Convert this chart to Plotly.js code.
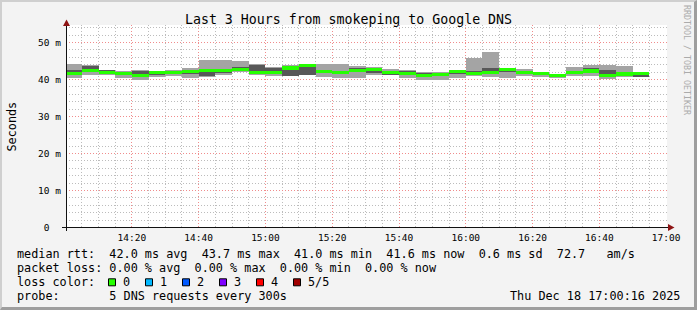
<!DOCTYPE html>
<html>
<head>
<meta charset="utf-8">
<script src="https://cdn.plot.ly/plotly-3.0.1.min.js"></script>
<style>
html,body{margin:0;padding:0;background:#f3f3f3;}
#wrap{position:relative;width:697px;height:310px;overflow:hidden;}
#chart{width:697px;height:310px;}
#frame{position:absolute;left:0;top:0;width:697px;height:310px;box-sizing:border-box;
  border-top:2px solid #cfcfcf;border-left:2px solid #cfcfcf;border-right:3px solid #9e9e9e;border-bottom:3px solid #9e9e9e;pointer-events:none;}
</style>
</head>
<body>
<div id="wrap"><div id="chart"></div><div id="frame"></div></div>
<script>
// ---- data (ms) ----
const day = '2025-12-18';
const times = ['14:00','14:05','14:10','14:15','14:20','14:25','14:30','14:35','14:40','14:45','14:50','14:55',
               '15:00','15:05','15:10','15:15','15:20','15:25','15:30','15:35','15:40','15:45','15:50','15:55',
               '16:00','16:05','16:10','16:15','16:20','16:25','16:30','16:35','16:40','16:45','16:50'];
const pingMin = [40.5,41.1,41.1,40.5,39.9,40.8,41.0,40.4,40.8,41.3,41.9,41.1,
                 40.9,40.9,41.2,40.6,40.4,40.4,41.1,41.1,40.4,39.9,39.9,40.3,
                 40.9,40.6,40.4,41.0,40.7,40.4,41.0,41.0,40.2,40.8,40.6];
const ping2   = [41.3,41.9,41.5,41.2,41.3,41.1,41.6,41.6,40.9,41.8,42.3,41.6,
                 41.7,41.0,41.3,41.8,41.5,42.1,41.7,41.3,41.4,40.6,40.9,41.6,
                 41.3,41.6,41.9,41.5,41.1,40.6,41.6,42.0,40.8,41.1,40.8];
const median  = [41.7,42.5,41.8,41.6,41.2,41.8,42.0,42.1,42.4,42.4,42.6,41.8,
                 42.0,43.1,43.7,42.1,41.9,42.4,42.7,41.9,41.7,41.0,41.3,42.1,
                 41.7,41.9,42.7,41.9,41.6,41.0,42.0,42.3,41.1,41.5,41.6];
const ping4   = [42.7,43.6,42.5,42.1,42.4,42.2,42.4,42.5,42.6,42.6,43.3,43.9,
                 43.1,43.4,43.9,42.6,42.3,43.1,42.9,42.4,42.4,41.7,41.7,42.3,
                 42.2,43.1,43.0,42.4,41.9,41.5,42.4,43.0,42.7,41.9,41.9];
const pingMax = [44.3,44.0,42.6,42.3,42.6,42.3,42.5,43.2,45.4,45.4,44.9,44.3,
                 43.5,43.9,44.3,44.3,44.3,43.7,43.5,42.9,42.5,42.0,42.1,42.5,
                 45.8,47.4,43.1,42.8,42.0,41.6,43.3,43.8,43.8,43.6,42.0];
const yTickVals = [0,10,20,30,40,50];
const yTickText = ['0\u00a0\u00a0','10\u00a0m','20\u00a0m','30\u00a0m','40\u00a0m','50\u00a0m'];
const rttStats = [42.0, 43.7, 41.0, 41.6];   // avg max min now
const rttSd = 0.6;
const rttAmS = 72.7;
const lossStats = [0, 0, 0, 0];               // avg max min now
const lossLabels = ['0','1','2','3','4','5/5'];
const lossColors = ['#26ff00','#00b8ff','#0059ff','#7e00ff','#ff0000','#a10000'];
const titleText = 'Last 3 Hours from smokeping to Google DNS';
const probeText = '5 DNS requests every 300s';
const stampText = 'Thu Dec 18 17:00:16 2025';

// ---- styles ----
const MONO = 'DejaVu Sans Mono';
const L = 66, T = 25, W = 601, H = 203;
const PXMS = 3.7;                      // pixels per ms
const yMin = -0.5 / PXMS, yMax = yMin + H / PXMS;
const xp = px => (px - L) / W;
const yp = py => (T + H - py) / H;
const nb = s => s.replace(/ /g, '\u00a0');
const STEP = 300000, MAJSTEP = 1200000;
const medHalf = 0.42;

const xs = times.map(t => day + ' ' + t + ':00');
const t0 = Date.parse(day + 'T14:00:00Z');

// minor grid positions (skip the ones under major grid lines)
const xMinor = [];
for (let t = t0 + STEP; t <= t0 + 3*3600000; t += STEP) {
  if ((t - t0) % MAJSTEP !== 0) xMinor.push(new Date(t).toISOString().replace('T',' ').slice(0,19));
}
const yMinor = [];
for (let v = 2; v < yMax; v += 2) { if (v % 10 !== 0) yMinor.push(v); }

const light = {type:'bar', x:xs, base:pingMin, y:pingMax.map((v,i)=>v-pingMin[i]),
  width:STEP, offset:0, marker:{color:'#a4a4a4', line:{width:0}}, hoverinfo:'skip'};
const dark = {type:'bar', x:xs, base:ping2, y:ping4.map((v,i)=>v-ping2[i]),
  width:STEP, offset:0, marker:{color:'#585858', line:{width:0}}, hoverinfo:'skip'};
const med = {type:'bar', x:xs, base:median.map(v=>v-medHalf), y:median.map(()=>2*medHalf),
  width:STEP, offset:0, marker:{color:lossColors[0], line:{width:0}}, hoverinfo:'skip'};

const f1 = v => v.toFixed(1), f2 = v => v.toFixed(2);
const line1 = `median rtt:  ${f1(rttStats[0])} ms avg  ${f1(rttStats[1])} ms max  ${f1(rttStats[2])} ms min  ${f1(rttStats[3])} ms now  ${f1(rttSd)} ms sd  ${f1(rttAmS)}   am/s`;
const line2 = `packet loss: ${f2(lossStats[0])} % avg  ${f2(lossStats[1])} % max  ${f2(lossStats[2])} % min  ${f2(lossStats[3])} % now`;
const line3 = 'loss color:';
const line4 = 'probe:       ' + probeText;

const LF = 11.8;
const txt = (s, px, py, anchor, size, extra) => Object.assign({
  text: nb(s), xref:'paper', yref:'paper', x: xp(px), y: yp(py), xanchor: anchor, yanchor:'middle',
  showarrow:false, borderpad:0, font:{family:MONO, size:size, color:'#000'}}, extra || {});

const annotations = [
  txt(line1, 16, 254.3, 'left', LF),
  txt(line2, 16, 268.3, 'left', LF),
  txt(line3, 16, 282.3, 'left', LF),
  txt(line4, 16, 296.2, 'left', LF),
  txt(stampText, 680.5, 296.2, 'right', LF),
  txt('Seconds', 11, 126.5, 'center', LF, {textangle:-90}),
  txt('RRDTOOL / TOBI OETIKER', 687, 60, 'center', 8.3, {textangle:90, font:{family:MONO, size:8.3, color:'#ababab'}})
];
const shapes = [];
const boxX0 = 108.5, boxStep = 37, boxW = 7;
lossLabels.forEach((lab, i) => {
  const bx = boxX0 + i*boxStep;
  shapes.push({type:'rect', xref:'paper', yref:'paper', x0:xp(bx), x1:xp(bx+boxW), y0:yp(285.8), y1:yp(278.8),
    fillcolor:lossColors[i], line:{color:'#000', width:1}});
  annotations.push(txt(lab, bx + 13.2, 282.3, 'left', LF));
});
// axes with arrows
shapes.push({type:'line', xref:'paper', yref:'paper', x0:xp(62), x1:xp(669), y0:yp(227.5), y1:yp(227.5), line:{color:'#111', width:1}});
shapes.push({type:'line', xref:'paper', yref:'paper', x0:xp(66.5), x1:xp(66.5), y0:yp(231), y1:yp(24), line:{color:'#111', width:1}});
shapes.push({type:'path', xref:'paper', yref:'paper',
  path:`M ${xp(668)},${yp(224)} L ${xp(674.5)},${yp(227.5)} L ${xp(668)},${yp(231)} Z`, fillcolor:'#8e1414', line:{width:0}});
shapes.push({type:'path', xref:'paper', yref:'paper',
  path:`M ${xp(63)},${yp(26)} L ${xp(66.5)},${yp(19.5)} L ${xp(70)},${yp(26)} Z`, fillcolor:'#8e1414', line:{width:0}});

const MAJ = '#f08c8c', MIN = '#bcbcbc', DASH = '1px,2px';
const layout = {
  width:697, height:310,
  margin:{l:L, r:697-L-W, t:T, b:310-T-H, pad:0},
  paper_bgcolor:'#f3f3f3', plot_bgcolor:'#ffffff',
  showlegend:false, barmode:'overlay', bargap:0,
  title:{text:titleText, font:{family:MONO, size:13.25, color:'#000'}, xref:'container', x:0.5, xanchor:'center',
         yref:'container', y:1-19/310, yanchor:'middle'},
  xaxis:{type:'date', range:[day+' 14:00:16', day+' 17:00:16'], tickformat:'%H:%M',
    tick0:day+' 14:00:00', dtick:MAJSTEP, ticks:'', showline:false, zeroline:false,
    showgrid:true, gridcolor:MAJ, griddash:DASH, gridwidth:1,
    minor:{tickmode:'array', tickvals:xMinor, showgrid:true, gridcolor:MIN, griddash:DASH, gridwidth:1, ticks:''},
    tickfont:{family:MONO, size:9.5, color:'#000'}, ticklabelstandoff:2, fixedrange:true},
  yaxis:{range:[yMin, yMax], tickmode:'array', tickvals:yTickVals, ticktext:yTickText, ticks:'', showline:false, zeroline:false,
    showgrid:true, gridcolor:MAJ, griddash:DASH, gridwidth:1,
    minor:{tickmode:'array', tickvals:yMinor, showgrid:true, gridcolor:MIN, griddash:DASH, gridwidth:1, ticks:''},
    tickfont:{family:MONO, size:9.5, color:'#000'}, ticklabelstandoff:4, fixedrange:true},
  annotations:annotations, shapes:shapes
};
Plotly.newPlot('chart', [light, dark, med], layout, {displayModeBar:false, staticPlot:true});
</script>
</body>
</html>
